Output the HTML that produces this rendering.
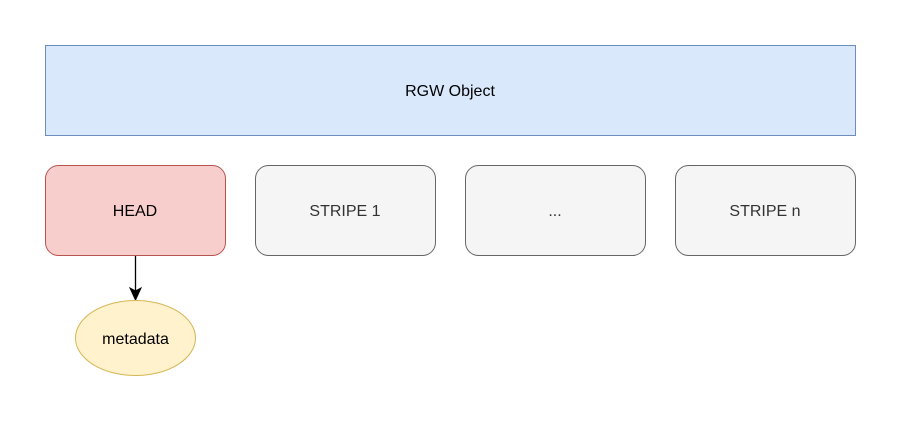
<!DOCTYPE html>
<html>
<head>
<meta charset="utf-8">
<style>
  html,body{margin:0;padding:0;background:#fff;}
  svg{display:block;}
  text{font-family:"Liberation Sans",Helvetica,Arial,sans-serif;font-size:16px;}
</style>
</head>
<body>
<svg width="902" height="422" viewBox="0 0 902 422">
  <g>
    <rect x="45.5" y="45.5" width="810" height="90" fill="#dae8fc" stroke="#6c8ebf" stroke-width="1"/>
    <text x="450" y="96" text-anchor="middle" fill="#000">RGW Object</text>
  </g>
  <g>
    <rect x="45.5" y="165.5" width="180" height="90" rx="13" fill="#f8cecc" stroke="#b85450" stroke-width="1"/>
    <text x="135" y="216" text-anchor="middle" fill="#000">HEAD</text>
  </g>
  <g>
    <rect x="255.5" y="165.5" width="180" height="90" rx="13" fill="#f5f5f5" stroke="#666666" stroke-width="1"/>
    <text x="345" y="216" text-anchor="middle" fill="#333333">STRIPE 1</text>
  </g>
  <g>
    <rect x="465.5" y="165.5" width="180" height="90" rx="13" fill="#f5f5f5" stroke="#666666" stroke-width="1"/>
    <text x="555" y="216" text-anchor="middle" fill="#333333">...</text>
  </g>
  <g>
    <rect x="675.5" y="165.5" width="180" height="90" rx="13" fill="#f5f5f5" stroke="#666666" stroke-width="1"/>
    <text x="765" y="216" text-anchor="middle" fill="#333333">STRIPE n</text>
  </g>
  <g>
    <line x1="135.5" y1="256" x2="135.5" y2="292" stroke="#000" stroke-width="1.3"/>
    <path d="M130,288 L135.5,300 L141,288 L135.5,291 Z" fill="#000" stroke="#000" stroke-width="1"/>
  </g>
  <g>
    <ellipse cx="135.5" cy="338" rx="60" ry="37.5" fill="#fff2cc" stroke="#d6b656" stroke-width="1"/>
    <text x="135.5" y="344" text-anchor="middle" fill="#000">metadata</text>
  </g>
</svg>
</body>
</html>
